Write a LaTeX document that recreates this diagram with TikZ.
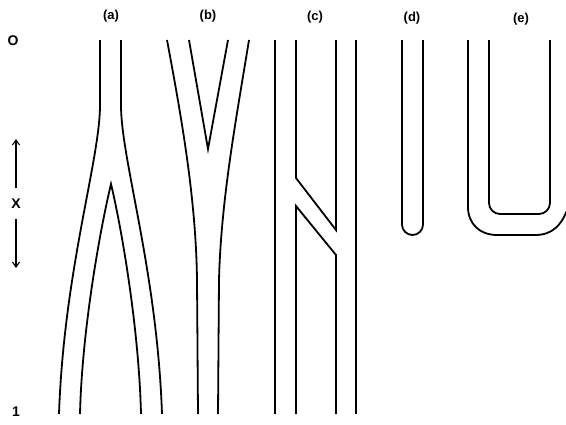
\documentclass[tikz,border=0pt]{standalone}
\usepackage{fontspec}
\setmainfont{Liberation Sans}
\usetikzlibrary{arrows.meta}
\begin{document}
\begin{tikzpicture}[x=1pt,y=-1pt,
  wall/.style={line width=1.8pt,line join=miter},
  lab/.style={font=\bfseries\fontsize{13}{15}\selectfont,inner sep=0pt},
  axl/.style={font=\bfseries\fontsize{14}{16}\selectfont,inner sep=0pt},
  axarrow/.style={line width=1.1pt,-{Straight Barb[length=5pt,width=7pt]}}]
\useasboundingbox (0,0) rectangle (566,424);
\clip (0,0) rectangle (566,424);
% axis labels
\node[axl] (zero) at (13,41) {O};
\node[axl] (xlab) at (16,204) {X};
\node[axl] (one) at (16,412) {1};
\coordinate (upend) at (16,139);
\coordinate (downend) at (16,268);
\draw[axarrow] (16,188) -- (upend);
\draw[axarrow] (16,219) -- (downend);
% panel labels
\node[lab] (la) at (111,16) {(a)};
\node[lab] (lb) at (208,16) {(b)};
\node[lab] (lc) at (315,17) {(c)};
\node[lab] (ld) at (412,18) {(d)};
\node[lab] (le) at (521,19) {(e)};
% (a)
\draw[wall] (100,40) -- (100,105) .. controls (100,160) and (64,270) .. (59,414);
\draw[wall] (121,40) -- (121,105) .. controls (121,160) and (157,270) .. (162,414);
\draw[wall] (80,414) .. controls (82,330) and (100,230) .. (111,184)
  .. controls (122,230) and (139,330) .. (141,414);
% (b)
\draw[wall] (167,40) .. controls (182,120) and (196,200) .. (197,280) -- (198,414);
\draw[wall] (249,40) .. controls (236,120) and (221,200) .. (219,280) -- (218,414);
\draw[wall] (189,40) -- (208,149) -- (228,40);
% (c)
\draw[wall] (275,40) -- (275,414);
\draw[wall] (356,40) -- (356,414);
\draw[wall] (296,40) -- (296,178) -- (336,230) -- (336,40);
\draw[wall] (296,414) -- (296,206) -- (336,255) -- (336,414);
% (d)
\draw[wall,rounded corners=10.5pt] (402,40) -- (402,235) -- (423,235) -- (423,40);
% (e)
\draw[wall,rounded corners=11pt] (489,40) -- (489,214) -- (550,214) -- (550,40);
\draw[wall] (468,40) -- (468,207) .. controls (468,224) and (480,235) .. (497,235)
  -- (535,235) .. controls (552,235) and (562,226) .. (569,205);
\end{tikzpicture}
\end{document}
